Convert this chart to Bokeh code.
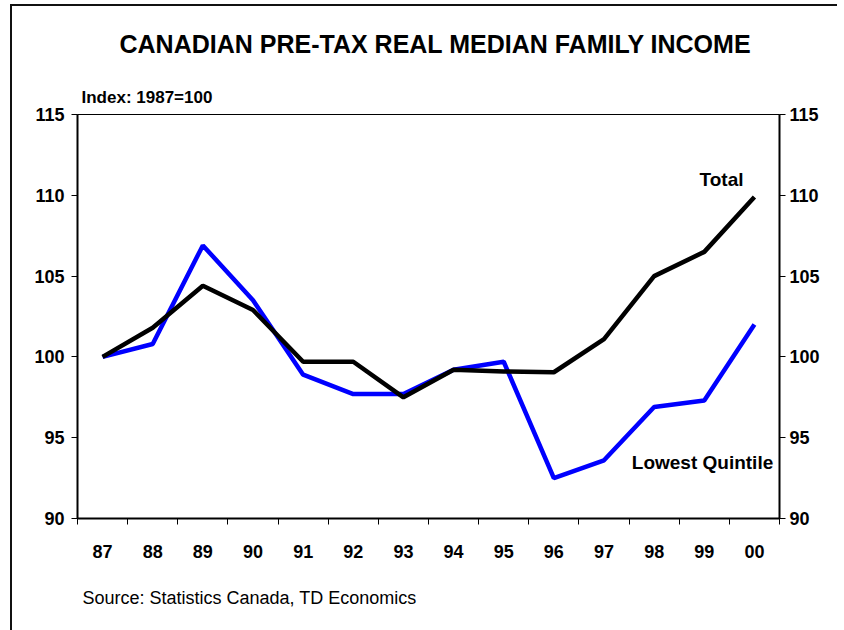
from bokeh.plotting import figure
from bokeh.models import (Range1d, LinearAxis, FixedTicker, Label, Title)
from bokeh.embed import file_html
from bokeh.resources import INLINE

years = ["87", "88", "89", "90", "91", "92", "93", "94", "95", "96", "97", "98", "99", "00"]
total = [100.0, 101.8, 104.4, 102.9, 99.7, 99.7, 97.5, 99.2, 99.1, 99.05, 101.1, 105.0, 106.5, 109.9]
lowest_quintile = [100.0, 100.8, 106.9, 103.5, 98.9, 97.7, 97.7, 99.2, 99.7, 92.5, 93.6, 96.9, 97.3, 102.0]
y_ticks = [90, 95, 100, 105, 110, 115]

title_text = "CANADIAN PRE-TAX REAL MEDIAN FAMILY INCOME"
index_text = "Index: 1987=100"
source_text = "Source: Statistics Canada, TD Economics"

FONT = "Liberation Sans"

n = len(years)
xs = [i + 0.5 for i in range(n)]

p = figure(output_backend="svg", toolbar_location=None,
           frame_width=702, frame_height=404,
           min_border_left=65, min_border_right=58,
           min_border_top=108, min_border_bottom=92,
           x_range=Range1d(0, n), y_range=Range1d(90, 115),
           x_axis_location=None, y_axis_location=None,
           background_fill_color="white", border_fill_color="white")
p.styles = {"margin-left": "10px", "margin-top": "4px",
            "border-left": "2px solid #111", "border-top": "2px solid #111"}
p.grid.visible = False
p.outline_line_color = "black"
p.outline_line_width = 1

# x axis: labels at category centres, ticks at boundaries
xaxis = LinearAxis(ticker=FixedTicker(ticks=xs, minor_ticks=list(range(n + 1))))
xaxis.major_label_overrides = {x: y for x, y in zip(xs, years)}
xaxis.major_tick_out = 0
xaxis.major_tick_in = 0
xaxis.minor_tick_out = 6
xaxis.minor_tick_in = 0
xaxis.minor_tick_line_width = 1
xaxis.axis_line_width = 2
xaxis.major_label_standoff = 20
xaxis.major_label_text_font = FONT
xaxis.major_label_text_font_style = "bold"
xaxis.major_label_text_font_size = "18px"
xaxis.major_label_text_color = "black"
p.add_layout(xaxis, "below")

for side, standoff in (("left", 7), ("right", 4)):
    ax = LinearAxis(ticker=FixedTicker(ticks=y_ticks, minor_ticks=[]))
    ax.major_tick_out = 6
    ax.major_tick_in = 0
    ax.major_tick_line_width = 1
    ax.axis_line_width = 2
    ax.major_label_standoff = standoff
    ax.major_label_text_font = FONT
    ax.major_label_text_font_style = "bold"
    ax.major_label_text_font_size = "18px"
    ax.major_label_text_color = "black"
    p.add_layout(ax, side)

p.line(xs, lowest_quintile, line_color="#0000FF", line_width=4.5)
p.line(xs, total, line_color="black", line_width=4.5)

# Titles around the frame
p.add_layout(Title(text=index_text, align="left", offset=4, standoff=15,
                   text_font=FONT, text_font_size="17px", text_font_style="bold",
                   text_color="black"), "above")
p.add_layout(Title(text=title_text, align="left", offset=42, standoff=42,
                   text_font=FONT, text_font_size="25px", text_font_style="bold",
                   text_color="black"), "above")
p.add_layout(Title(text=source_text, align="left", offset=5, standoff=50,
                   text_font=FONT, text_font_size="18px", text_font_style="normal",
                   text_color="black"), "below")

# Series labels inside the frame
def lab(text, x, y, size):
    p.add_layout(Label(text=text, x=x, y=y, x_units="screen", y_units="screen",
                       text_font=FONT, text_font_size=size, text_font_style="bold",
                       text_align="center", text_baseline="middle", text_color="black"))

lab("Total", 644, 339, "19px")
lab("Lowest Quintile", 625, 56, "19px")

open("out.html", "w").write(file_html(p, INLINE))
